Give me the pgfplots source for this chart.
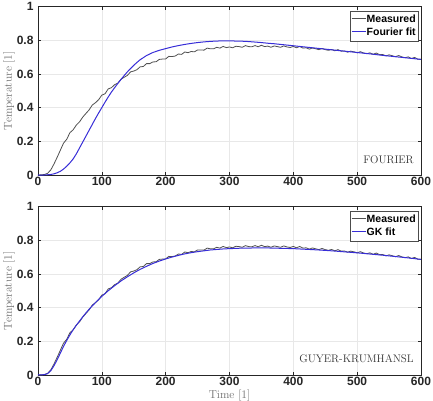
\documentclass[border=0pt]{standalone}
\usepackage{fontspec}
\setsansfont{Liberation Sans}
\usepackage{pgfplots}
\usepackage{pgfplotstable}
\pgfplotsset{compat=1.18}

\definecolor{meas}{RGB}{80,80,80}
\definecolor{fitblue}{RGB}{55,45,215}
\definecolor{labgray}{RGB}{110,110,110}

% measured rear-side temperature (normalised)
\pgfplotstableread{
t T
0 0.000
5 0.001
10 0.003
15 0.010
20 0.030
25 0.065
30 0.105
35 0.147
40 0.189
45 0.212
50 0.251
55 0.268
60 0.296
65 0.315
70 0.343
75 0.365
80 0.386
85 0.415
90 0.429
95 0.447
100 0.474
105 0.482
110 0.511
115 0.518
120 0.536
125 0.545
130 0.568
135 0.580
140 0.591
145 0.612
150 0.617
155 0.625
160 0.642
165 0.644
170 0.661
175 0.661
180 0.671
185 0.672
190 0.686
195 0.688
200 0.689
205 0.704
210 0.703
215 0.706
220 0.718
225 0.716
230 0.730
235 0.726
240 0.733
245 0.731
250 0.742
255 0.742
260 0.741
265 0.753
270 0.749
275 0.749
280 0.758
285 0.753
290 0.763
295 0.756
300 0.760
305 0.755
310 0.764
315 0.762
320 0.758
325 0.768
330 0.762
335 0.761
340 0.768
345 0.761
350 0.770
355 0.762
360 0.765
365 0.758
370 0.766
375 0.762
380 0.758
385 0.766
390 0.760
395 0.757
400 0.763
405 0.755
410 0.763
415 0.753
420 0.755
425 0.747
430 0.754
435 0.749
440 0.744
445 0.751
450 0.744
455 0.740
460 0.745
465 0.737
470 0.744
475 0.735
480 0.736
485 0.729
490 0.735
495 0.731
500 0.725
505 0.732
510 0.724
515 0.720
520 0.725
525 0.716
530 0.724
535 0.714
540 0.715
545 0.707
550 0.713
555 0.708
560 0.702
565 0.709
570 0.701
575 0.696
580 0.701
585 0.691
590 0.698
595 0.687
600 0.687
}\measured

% Fourier model fit
\pgfplotstableread{
t T
0 0.000
10 0.000
20 0.003
25 0.007
30 0.013
35 0.022
40 0.035
45 0.052
50 0.072
55 0.095
60 0.125
65 0.160
70 0.195
75 0.230
80 0.265
85 0.300
90 0.335
95 0.368
100 0.400
105 0.432
110 0.463
115 0.492
120 0.518
125 0.543
130 0.567
135 0.590
140 0.612
145 0.632
150 0.651
155 0.668
160 0.684
170 0.709
180 0.727
190 0.740
200 0.750
210 0.760
220 0.768
230 0.775
240 0.781
250 0.786
260 0.790
270 0.793
280 0.795
290 0.796
300 0.796
310 0.795
320 0.794
330 0.792
340 0.789
350 0.786
360 0.782
370 0.779
380 0.775
390 0.771
400 0.767
420 0.759
440 0.751
460 0.743
480 0.735
500 0.727
520 0.719
540 0.710
560 0.702
580 0.694
600 0.686
}\fourierfit

% Guyer-Krumhansl model fit
\pgfplotstableread{
t T
0 0.000
10 0.002
15 0.008
20 0.025
25 0.055
30 0.090
35 0.130
40 0.170
45 0.205
50 0.238
55 0.268
60 0.295
65 0.320
70 0.345
75 0.368
80 0.390
90 0.430
100 0.467
110 0.500
120 0.530
130 0.558
140 0.583
150 0.606
160 0.627
170 0.645
180 0.662
190 0.676
200 0.689
210 0.700
220 0.710
230 0.719
240 0.726
250 0.732
260 0.737
270 0.742
280 0.745
290 0.748
300 0.750
320 0.753
340 0.754
360 0.754
380 0.752
400 0.750
420 0.746
440 0.742
460 0.737
480 0.731
500 0.725
520 0.718
540 0.711
560 0.703
580 0.695
600 0.686
}\gkfit

% legend sample line: colour, thickness
\newcommand\legline[2]{\textcolor{#1}{\rule[0.32em]{14pt}{#2}}\hspace{1pt}}
\newcommand\legbox[2]{%
  \node[draw=black!70, line width=0.4pt, fill=white, anchor=north east,
    inner sep=2pt, font=\sffamily\bfseries\fontsize{10.5}{13}\selectfont]
    at (axis description cs:0.992,0.975)
    {\begin{tabular}{@{}l@{}}
       \legline{meas}{0.8pt}#1\\
       \legline{fitblue}{1pt}#2
     \end{tabular}};}

\pgfplotsset{heatax/.style={
  scale only axis, width=383pt, height=168.5pt,
  xmin=0, xmax=600, ymin=0, ymax=1,
  xtick={0,100,200,300,400,500,600},
  ytick={0,0.2,0.4,0.6,0.8,1},
  grid=major, grid style={gray!18, line width=0.4pt},
  axis line style={black!85, line width=0.5pt},
  tick style={black!85, line width=0.5pt}, major tick length=3pt,
  tick label style={font=\sffamily\bfseries\fontsize{12}{14}\selectfont, text=black!85},
  xticklabel style={yshift=1pt},
  yticklabel style={/pgf/number format/fixed, xshift=-1pt},
  /pgf/number format/assume math mode=true,
  ylabel={Temperature [1]},
  ylabel style={font=\fontsize{11.5}{13}\selectfont, text=labgray,
    at={(axis description cs:-0.076,0.5)}, anchor=center},
}}

\begin{document}
\begin{tikzpicture}
\begin{axis}[heatax, at={(0pt,200pt)}]
  \addplot[color=meas, line width=0.8pt] table {\measured};
  \addplot[color=fitblue, line width=1pt] table {\fourierfit};
  \legbox{Measured}{Fourier fit}
  \node[anchor=east, font=\fontsize{11}{13}\selectfont, text=black!80]
    at (axis description cs:0.99,0.089) {FOURIER};
\end{axis}
\begin{axis}[heatax, at={(0pt,0pt)}, xlabel={Time [1]},
  xlabel style={font=\fontsize{11.5}{13}\selectfont, text=labgray,
    at={(axis description cs:0.5,0)}, anchor=base, yshift=-23pt}]
  \addplot[color=meas, line width=0.8pt] table {\measured};
  \addplot[color=fitblue, line width=1pt] table {\gkfit};
  \legbox{Measured}{GK fit}
  \node[anchor=east, font=\fontsize{11}{13}\selectfont, text=black!80]
    at (axis description cs:0.99,0.099) {GUYER-KRUMHANSL};
\end{axis}
\pgfresetboundingbox
\path[use as bounding box] (-38pt,-25pt) rectangle (395pt,375pt);
\end{tikzpicture}
\end{document}
